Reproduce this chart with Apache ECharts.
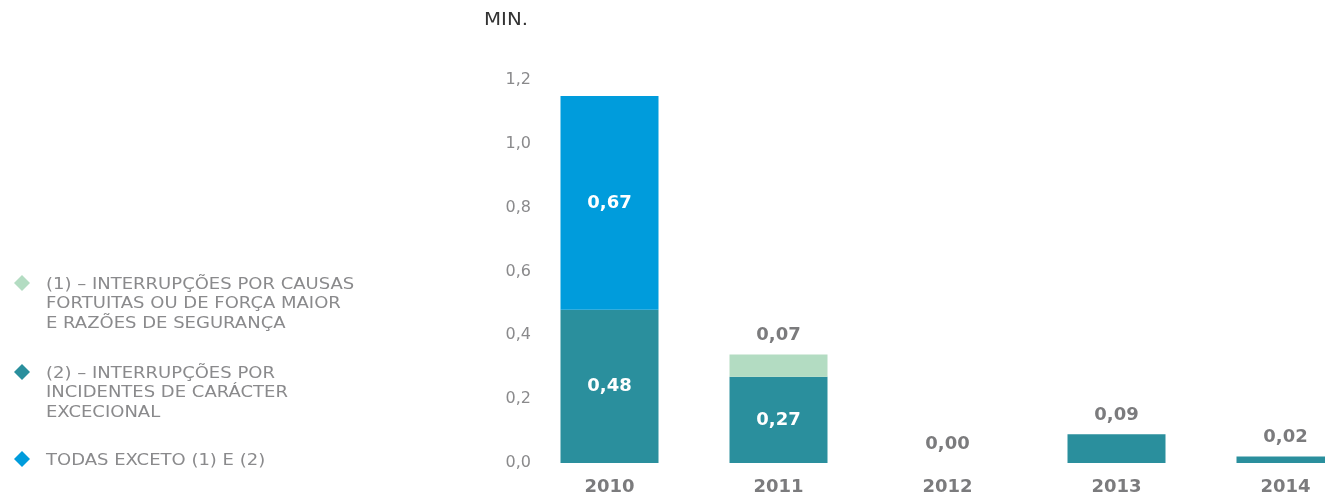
<!DOCTYPE html>
<html>
<head>
<meta charset="utf-8">
<script src="https://cdn.jsdelivr.net/npm/echarts@6/dist/echarts.min.js"></script>
<style>
  html, body { margin: 0; padding: 0; background: #fff; }
  #chart { width: 1325px; height: 499px; }
</style>
</head>
<body>
<div id="chart"></div>
<script>
  // dados
  var years = ['2010', '2011', '2012', '2013', '2014'];
  var excecional = [0.48, 0.27, 0.00, 0.09, 0.02];   // (2)
  var fortuitas = [0, 0.07, 0, 0, 0];                // (1)
  var todas = [0.67, 0, 0, 0, 0];                    // todas exceto (1) e (2)
  var yTicks = [0, 0.2, 0.4, 0.6, 0.8, 1.0, 1.2];

  var legendNames = [
    '(1) – INTERRUPÇÕES POR CAUSAS\nFORTUITAS OU DE FORÇA MAIOR\nE RAZÕES DE SEGURANÇA',
    '(2) – INTERRUPÇÕES POR\nINCIDENTES DE CARÁCTER\nEXCECIONAL',
    'TODAS EXCETO (1) E (2)'
  ];
  var colors = ['#b3dcc2', '#2a8f9d', '#009cdc'];
  var legendTop = [275, 364, 451];

  var font = 'DejaVu Sans';
  var grey = '#7b7b7d';

  function fmt(v) { return v.toFixed(2).replace('.', ','); }

  var chart = echarts.init(document.getElementById('chart'));

  // legenda desenhada à mão (ícone alinhado com a 1a linha)
  var legend = [];
  legendNames.forEach(function (n, i) {
    legend.push({
      type: 'polygon',
      shape: { points: [[22, legendTop[i]], [30, legendTop[i] + 8], [22, legendTop[i] + 16], [14, legendTop[i] + 8]] },
      style: { fill: colors[i] }
    });
    legend.push({
      type: 'text', x: 46, y: legendTop[i], scaleX: 1.2,
      style: { text: n, font: '15px "' + font + '"', fill: '#8a8a8c', lineHeight: 19.5 }
    });
  });
  legend.push({
    type: 'text', x: 484, y: 11, scaleX: 1.1,
    style: { text: 'MIN.', font: '18px "' + font + '"', fill: '#333' }
  });

  var labelInside = { show: true, position: 'inside', color: '#fff', fontWeight: 'bold', fontSize: 18, fontFamily: font, formatter: function (p) { return fmt(p.value); } };
  var labelTop = { show: true, position: 'top', distance: 10, color: grey, fontWeight: 'bold', fontSize: 18, fontFamily: font, formatter: function (p) { return fmt(p.value); } };

  var option = {
    animation: false,
    grid: { left: 525, width: 845, top: 80, bottom: 36, outerBoundsMode: 'none', containLabel: false },
    graphic: legend,
    xAxis: {
      type: 'category',
      data: years,
      axisLine: { show: false },
      axisTick: { show: false },
      axisLabel: { color: grey, fontSize: 18, fontWeight: 'bold', fontFamily: font, margin: 15 }
    },
    yAxis: {
      type: 'value',
      min: yTicks[0], max: yTicks[yTicks.length - 1], interval: 0.2,
      splitLine: { show: false },
      axisLine: { show: false },
      axisTick: { show: false },
      axisLabel: {
        color: '#8a8a8c', fontSize: 16, fontFamily: font, margin: -6,
        formatter: function (v) { return v.toFixed(1).replace('.', ','); }
      }
    },
    series: [
      {
        name: legendNames[1], type: 'bar', stack: 't', barWidth: 98,
        itemStyle: { color: colors[1] },
        data: excecional.map(function (v, i) {
          return { value: v, label: (i < 2) ? labelInside : labelTop };
        })
      },
      {
        name: legendNames[0], type: 'bar', stack: 't',
        itemStyle: { color: colors[0] },
        data: fortuitas.map(function (v) {
          return { value: v, label: v > 0 ? labelTop : { show: false } };
        })
      },
      {
        name: legendNames[2], type: 'bar', stack: 't',
        itemStyle: { color: colors[2] },
        data: todas.map(function (v) {
          return { value: v, label: v > 0 ? labelInside : { show: false } };
        })
      }
    ]
  };

  chart.setOption(option);
</script>
</body>
</html>
